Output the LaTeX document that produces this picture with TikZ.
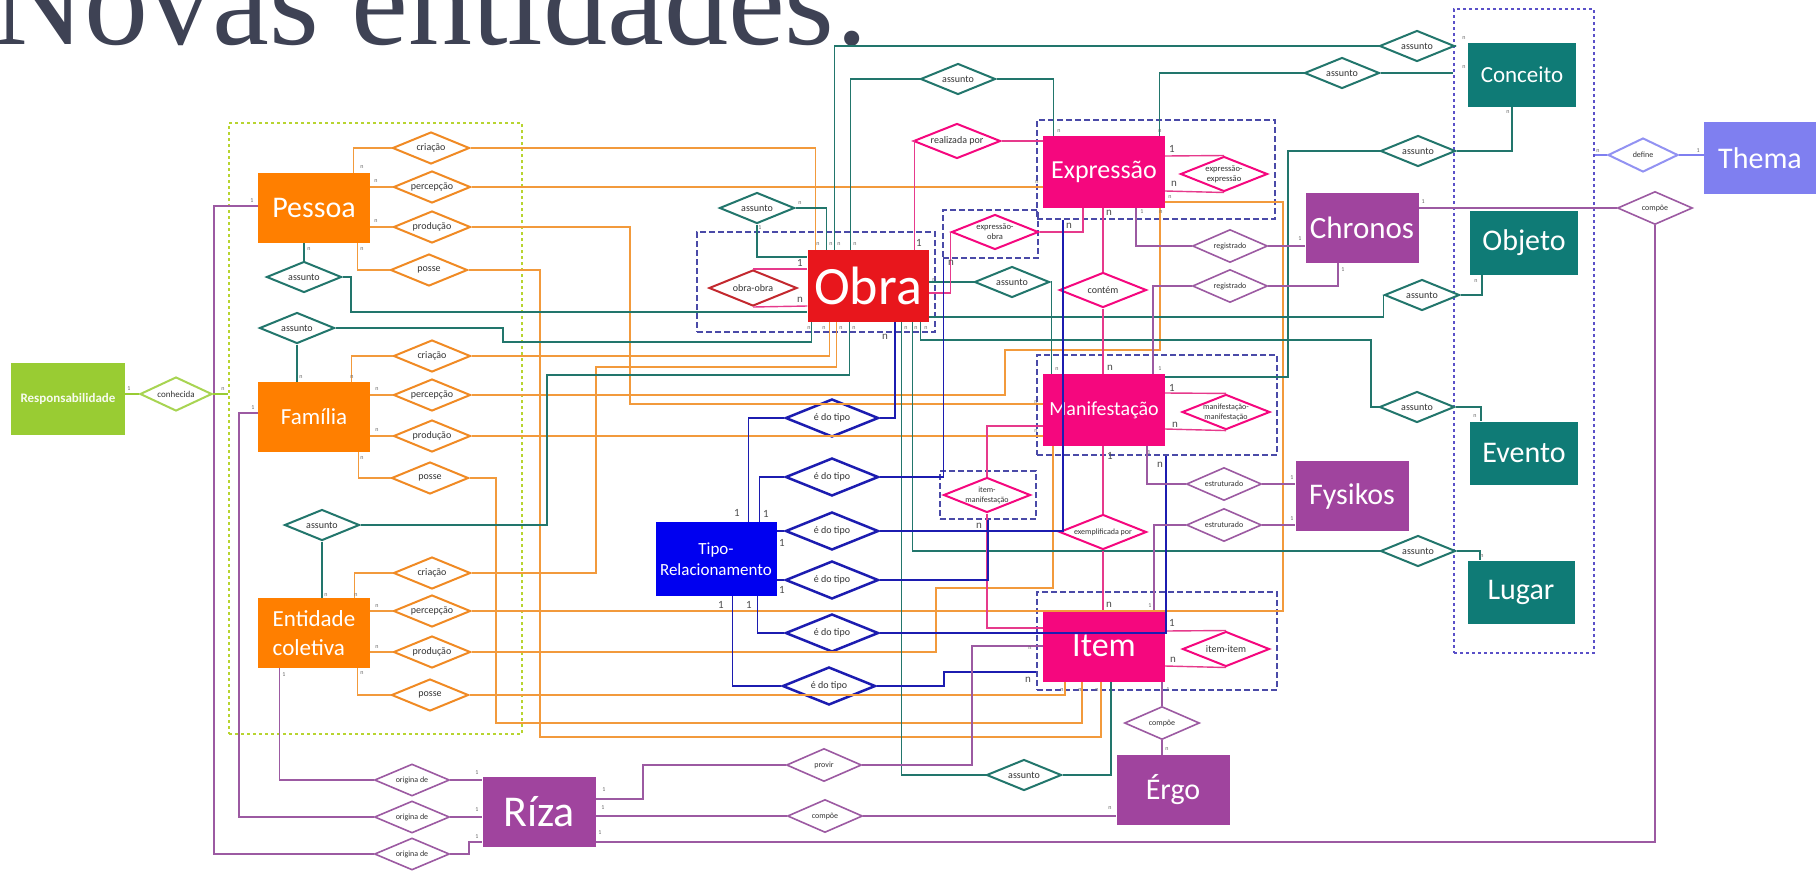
\documentclass[tikz,border=0pt]{standalone}
\usepackage{fontspec}
\setmainfont{Carlito}
\newfontfamily\titlefont{Liberation Serif}
\usetikzlibrary{shapes.geometric}

\definecolor{laranja}{HTML}{FF7F00}
\definecolor{laranjalinha}{HTML}{F29A3C}
\definecolor{laranjad}{HTML}{F08A24}
\definecolor{verdeazul}{HTML}{0F7B76}
\definecolor{verdelinha}{HTML}{22766C}
\definecolor{rosa}{HTML}{F5077E}
\definecolor{rosalinha}{HTML}{E63A8C}
\definecolor{vermelho}{HTML}{E8161C}
\definecolor{vinho}{HTML}{C3282E}
\definecolor{roxo}{HTML}{A0449E}
\definecolor{roxolinha}{HTML}{9C5AA2}
\definecolor{azul}{HTML}{0000F0}
\definecolor{azullinha}{HTML}{1C1CB0}
\definecolor{limao}{HTML}{99CC33}
\definecolor{lavanda}{HTML}{7F7FF0}
\definecolor{moldura}{HTML}{4A4AA8}
\definecolor{molduraverde}{HTML}{B8D430}
\definecolor{molduraroxa}{HTML}{5A50C8}
\definecolor{titulo}{HTML}{3E4254}

\newcommand\fs[1]{\fontsize{#1}{#1}\selectfont}

\begin{document}
\begin{tikzpicture}[x=1pt,y=-1pt,
  ent/.style={rectangle, inner sep=1pt, text=white, align=center},
  rel/.style={diamond, aspect=2.5, inner sep=0pt, line width=2pt, fill=white,
    minimum width=76pt, minimum height=32pt, font=\fs{10}, text=black!80, align=center},
  orel/.style={rel, draw=laranjad, minimum width=77pt},
  trel/.style={rel, draw=verdelinha, minimum width=75pt, minimum height=31pt},
  prel/.style={rel, draw=rosa, minimum width=87pt, minimum height=35pt},
  brel/.style={rel, draw=azullinha, line width=2.5pt, minimum width=93pt, minimum height=38pt},
  vrel/.style={rel, draw=roxolinha, line width=1.6pt, minimum width=75pt, minimum height=33pt, font=\fs{8}},
  wframe/.style={draw=moldura, dash pattern=on 6pt off 3pt, line width=1.4pt, inner sep=0pt},
  oline/.style={draw=laranjalinha, line width=1.3pt},
  tline/.style={draw=verdelinha, line width=1.3pt},
  pline/.style={draw=rosalinha, line width=1.4pt},
  bline/.style={draw=azullinha, line width=1.5pt},
  vline/.style={draw=roxolinha, line width=1.3pt},
  card/.style={font=\fs{6}, text=black!60, inner sep=0pt},
  cardb/.style={font=\fs{11}, text=black!70, inner sep=0pt}]
\useasboundingbox (0,0) rectangle (1819,871);

% titulo
\node[font=\titlefont\fs{128}, text=titulo, anchor=base west, inner sep=0pt] (titulo) at (-8,44) {Novas entidades:};

% molduras
\node[draw=molduraverde, dash pattern=on 3pt off 3pt, line width=1.6pt, inner sep=0pt,
  minimum width=293pt, minimum height=611pt] (fGroup) at (375.5,428.5) {};
\node[draw=molduraroxa, dash pattern=on 3pt off 3pt, line width=1.6pt, inner sep=0pt,
  minimum width=140pt, minimum height=644pt] (fThema) at (1524,331) {};
\node[wframe, minimum width=238pt, minimum height=100pt] (fObra) at (816,282) {};
\node[wframe, minimum width=95pt, minimum height=48pt] (fExpObra) at (990.5,234) {};
\node[wframe, minimum width=238pt, minimum height=99pt] (fExpr) at (1156,169.5) {};
\node[wframe, minimum width=240pt, minimum height=100pt] (fManif) at (1157,405) {};
\node[wframe, minimum width=96pt, minimum height=48pt] (fItemMan) at (988,495) {};
\node[wframe, minimum width=240pt, minimum height=98pt] (fItem) at (1157,641) {};

% entidades
\node[ent, fill=laranja, minimum width=112pt, minimum height=70pt, font=\fs{30}] (Pessoa) at (314,208) {Pessoa};
\node[ent, fill=laranja, minimum width=112pt, minimum height=70pt, font=\fs{23}] (Familia) at (314,417) {Família};
\node[ent, fill=laranja, minimum width=112pt, minimum height=70pt, align=left,
  font=\fontsize{23}{29}\selectfont] (EntColetiva) at (314,633) {Entidade\\coletiva};
\node[ent, fill=limao, minimum width=114pt, minimum height=72pt, text=white!92!limao,
  font=\bfseries\fs{13}] (Resp) at (68,399) {Responsabilidade};
\node[ent, fill=vermelho, minimum width=121pt, minimum height=72pt, font=\fs{54}] (Obra) at (868,286) {Obra};
\node[ent, fill=rosa, minimum width=122pt, minimum height=72pt, font=\fs{26}] (Expr) at (1104,172) {Expressão};
\node[ent, fill=rosa, minimum width=122pt, minimum height=72pt, font=\fs{20}] (Manif) at (1104,410) {Manifestação};
\node[ent, fill=rosa, minimum width=122pt, minimum height=71pt, font=\fs{34}] (Item) at (1104,646) {Item};
\node[ent, fill=roxo, minimum width=113pt, minimum height=70pt, font=\fs{31}] (Chronos) at (1362,228) {Chronos};
\node[ent, fill=roxo, minimum width=113pt, minimum height=70pt, font=\fs{30}] (Fysikos) at (1352,496) {Fysikos};
\node[ent, fill=roxo, minimum width=113pt, minimum height=70pt, font=\fs{30}] (Ergo) at (1173,790) {Érgo};
\node[ent, fill=roxo, minimum width=113pt, minimum height=70pt, font=\fs{44}] (Riza) at (539,812) {Ríza};
\node[ent, fill=verdeazul, minimum width=108pt, minimum height=64pt, font=\fs{23}] (Conceito) at (1522,75) {Conceito};
\node[ent, fill=verdeazul, minimum width=108pt, minimum height=64pt, font=\fs{30}] (Objeto) at (1524,243) {Objeto};
\node[ent, fill=verdeazul, minimum width=108pt, minimum height=63pt, font=\fs{30}] (Evento) at (1524,453) {Evento};
\node[ent, fill=verdeazul, minimum width=107pt, minimum height=63pt, font=\fs{30}] (Lugar) at (1521,592) {Lugar};
\node[ent, fill=lavanda, minimum width=112pt, minimum height=72pt, font=\fs{30}] (Thema) at (1760,158) {Thema};
\node[ent, fill=azul, minimum width=121pt, minimum height=74pt,
  font=\fontsize{17}{21}\selectfont] (TipoRel) at (716,559) {Tipo-\\Relacionamento};

% relacionamentos
\node[orel] (Pcri) at (431,148) {criação};
\node[orel] (Pperc) at (432,187) {percepção};
\node[orel] (Pprod) at (432,227) {produção};
\node[orel] (Pposse) at (429,270) {posse};
\node[orel] (Fcri) at (432,356) {criação};
\node[orel] (Fperc) at (432,395) {percepção};
\node[orel] (Fprod) at (432,436) {produção};
\node[orel] (Fposse) at (430,478) {posse};
\node[orel] (Ecri) at (432,573) {criação};
\node[orel] (Eperc) at (432,611) {percepção};
\node[orel] (Eprod) at (432,652) {produção};
\node[orel] (Eposse) at (430,695) {posse};

\node[trel] (aP) at (304,277) {assunto};
\node[trel] (aF) at (297,328) {assunto};
\node[trel] (aE) at (322,525) {assunto};
\node[trel] (aO) at (757,208) {assunto};
\node[trel] (aTop) at (958,79) {assunto};
\node[trel] (aR) at (1012,282) {assunto};
\node[trel] (aC1) at (1417,46) {assunto};
\node[trel] (aC2) at (1342,73) {assunto};
\node[trel] (aC3) at (1418,151) {assunto};
\node[trel] (aObj) at (1422,295) {assunto};
\node[trel] (aEv) at (1417,407) {assunto};
\node[trel] (aLu) at (1418,551) {assunto};
\node[trel] (aBot) at (1024,775) {assunto};

\node[prel] (realiz) at (957,141) {realizada por};
\node[prel, font=\fontsize{8.5}{10}\selectfont] (expObra) at (995,232) {expressão-\\obra};
\node[prel] (contem) at (1103,290) {contém};
\node[prel, font=\fontsize{8.5}{10}\selectfont] (expExp) at (1224,174) {expressão-\\expressão};
\node[prel, font=\fontsize{8}{10}\selectfont] (manMan) at (1226,412) {manifestação-\\manifestação};
\node[prel, font=\fontsize{8}{10}\selectfont] (itemMan) at (987,495) {item-\\manifestação};
\node[prel, font=\fs{8}] (exempl) at (1103,532) {exemplificada por};
\node[prel] (itemItem) at (1226,649) {item-item};
\node[rel, draw=vinho, minimum width=88pt, minimum height=36pt] (obraObra) at (753,288) {obra-obra};

\node[brel] (t1) at (832,418) {é do tipo};
\node[brel] (t2) at (832,477) {é do tipo};
\node[brel] (t3) at (832,531) {é do tipo};
\node[brel] (t4) at (832,580) {é do tipo};
\node[brel] (t5) at (832,633) {é do tipo};
\node[brel] (t6) at (829,686) {é do tipo};

\node[vrel] (reg1) at (1230,246) {registrado};
\node[vrel] (reg2) at (1230,286) {registrado};
\node[vrel] (est1) at (1224,484) {estruturado};
\node[vrel] (est2) at (1224,525) {estruturado};
\node[vrel] (cmpTop) at (1655,208) {compõe};
\node[vrel] (cmpErgo) at (1162,723) {compõe};
\node[vrel] (cmpRiza) at (825,816) {compõe};
\node[vrel] (provir) at (824,765) {provir};
\node[vrel, minimum height=32pt] (or1) at (412,780) {origina de};
\node[vrel, minimum height=32pt] (or2) at (412,817) {origina de};
\node[vrel, minimum height=32pt] (or3) at (412,854) {origina de};
\node[rel, draw=limao!85!white, minimum width=72pt, minimum height=34pt, font=\fs{9}] (conhecida) at (176,394) {conhecida};
\node[rel, draw=lavanda!85!white, minimum width=70pt, minimum height=34pt, font=\fs{8}] (define) at (1643,155) {define};

% ligacoes das pessoas
\draw[oline] (Pcri.west) -| ([xshift=-17pt]Pessoa.north east);
\draw[oline] (Pperc.west) -- (Pperc.west -| Pessoa.east);
\draw[oline] (Pprod.west) -- (Pprod.west -| Pessoa.east);
\draw[oline] (Pposse.west) -| ([xshift=-13pt]Pessoa.south east);
\draw[oline] (Fcri.west) -| ([xshift=-19pt]Familia.north east);
\draw[oline] (Fperc.west) -- (Fperc.west -| Familia.east);
\draw[oline] (Fprod.west) -- (Fprod.west -| Familia.east);
\draw[oline] (Fposse.west) -| ([xshift=-12pt]Familia.south east);
\draw[oline] (Ecri.west) -| ([xshift=-16pt]EntColetiva.north east);
\draw[oline] (Eperc.west) -- (Eperc.west -| EntColetiva.east);
\draw[oline] (Eprod.west) -- (Eprod.west -| EntColetiva.east);
\draw[oline] (Eposse.west) -| ([xshift=-13pt]EntColetiva.south east);

\draw[oline] (Pcri.east) -| ([xshift=8pt]Obra.north west);
\draw[oline] (Pperc.east) -- ([yshift=-15pt]Expr.west);
\draw[oline] (Pprod.east) -| (630,404) -- ([yshift=6pt]Manif.west);
\draw[oline] (Pposse.east) -| (540,737) -| ([xshift=-3pt]Item.south);
\draw[oline] (Fcri.east) -| ([xshift=22pt]Obra.south west);
\draw[oline] (Fperc.east) -| (1005,350) -| ([xshift=56pt]Expr.south);
\draw[oline] (Fprod.east) -- ([yshift=-26pt]Manif.west);
\draw[oline] (Fposse.east) -| (496,723) -| ([xshift=-22pt]Item.south);
\draw[oline] (Ecri.east) -| (596,367) -| ([xshift=29pt]Obra.south west);
\draw[oline] (Eperc.east) -| (1283,202) -- ([yshift=-30pt]Expr.east);
\draw[oline] (Eprod.east) -| (936,588) -| ([xshift=-51pt]Manif.south);
\draw[oline] (Eposse.east) -| ([xshift=-39pt]Item.south);

% assunto
\draw[tline] (aP.north) -- (aP.north |- Pessoa.south);
\draw[tline] (aP.east) -| (351,312) -- ([yshift=-26pt]Obra.west);
\draw[tline] (aF.south) -- (aF.south |- Familia.north);
\draw[tline] (aF.east) -| (503,342) -| ([xshift=4pt]Obra.south west);
\draw[tline] (aE.south) -- (aE.south |- EntColetiva.north);
\draw[tline] (aE.east) -| (547,375) -| ([xshift=42pt]Obra.south west);
\draw[tline] (aO.south) |- ([yshift=29pt]Obra.west);
\draw[tline] (aO.east) -| ([xshift=19pt]Obra.north west);
\draw[tline] ([xshift=27pt]Obra.north west) |- (aC1.west);
\draw[tline] (aC1.east) -- (aC1.east -| fThema.west);
\draw[tline] ([xshift=43pt]Obra.north west) |- (aTop.west);
\draw[tline] (aTop.east) -| ([xshift=11pt]Expr.north west);
\draw[tline] ([xshift=117pt]Expr.north west) |- (aC2.west);
\draw[tline] (aC2.east) -- (aC2.east -| fThema.west);
\draw[tline] (aC3.east) -| ([xshift=-10pt]Conceito.south);
\draw[tline] (aC3.west) -| (1288,377) -- ([yshift=33pt]Manif.east);
\draw[tline] ([yshift=-31pt]Obra.east) -| (aObj.west);
\draw[tline] (aObj.east) -| ([xshift=-42pt]Objeto.south);
\draw[tline] ([yshift=4pt]Obra.east) -- (aR.west);
\draw[tline] (aR.east) -| ([xshift=9pt]Manif.north west);
\draw[tline] ([xshift=113pt]Obra.south west) |- (1371,340) |- (aEv.west);
\draw[tline] (aEv.east) -| ([xshift=-43pt]Evento.north);
\draw[tline] ([xshift=105pt]Obra.south west) |- (aLu.west);
\draw[tline] (aLu.east) -| ([xshift=-41pt]Lugar.north);
\draw[tline] ([xshift=94pt]Obra.south west) |- (aBot.west);
\draw[tline] (aBot.east) -| ([xshift=7pt]Item.south);

% obra, expressao, manifestacao, item
\draw[pline] ([yshift=17pt]Obra.west) -- (obraObra.north);
\draw[pline] ([yshift=-20pt]Obra.west) -- (obraObra.south);
\draw[pline] (realiz.east) -- (realiz.east -| Expr.west);
\draw[pline] (realiz.west) -| ([xshift=-14pt]Obra.north east);
\draw[pline] ([yshift=-7pt]Obra.east) -| (expObra.west);
\draw[pline] (expObra.east) -| ([xshift=-21pt]Expr.south);
\draw[pline] (contem.north) -- (contem.north |- Expr.south);
\draw[pline] (contem.south) -- (contem.south |- Manif.north);
\draw[pline] ([yshift=16pt]Expr.east) -- (expExp.north);
\draw[pline] ([yshift=-19pt]Expr.east) -- (expExp.south);
\draw[pline] ([yshift=17pt]Manif.east) -- (manMan.north);
\draw[pline] ([yshift=-19pt]Manif.east) -- (manMan.south);
\draw[pline] ([yshift=15pt]Item.east) -- (itemItem.north);
\draw[pline] ([yshift=-20pt]Item.east) -- (itemItem.south);
\draw[pline] (exempl.north) -- (exempl.north |- Manif.south);
\draw[pline] (exempl.south) -- (exempl.south |- Item.north);
\draw[pline] (itemMan.north) |- ([yshift=-16pt]Manif.west);
\draw[pline] (itemMan.south) |- ([yshift=18pt]Item.west);

% tipo de relacionamento
\draw[bline] (t1.west) -| ([xshift=93pt]TipoRel.north west);
\draw[bline] (t1.east) -| ([xshift=27pt]Obra.south);
\draw[bline] (t2.west) -| ([xshift=104pt]TipoRel.north west);
\draw[bline] (t2.east) -| ([xshift=-47pt]fExpObra.south);
\draw[bline] (t3.west) -- (t3.west -| TipoRel.east);
\draw[bline] (t3.east) -| ([xshift=-93pt]fExpr.south);
\draw[bline] (t4.west) -- (t4.west -| TipoRel.east);
\draw[bline] (t4.east) -| (fItemMan.south);
\draw[bline] (t5.west) -| ([xshift=102pt]TipoRel.south west);
\draw[bline] (t5.east) -| ([xshift=9pt]fManif.south);
\draw[bline] (t6.west) -| ([xshift=77pt]TipoRel.south west);
\draw[bline] (t6.east) -| (944,672) -- ([yshift=-31pt]fItem.west);

% Riza, Chronos, Fysikos, Ergo
\draw[vline] ([yshift=2pt]Pessoa.west) -| (214,854) -- (or3.west);
\draw[vline] ([yshift=4pt]Familia.west) -| (239,817) -- (or2.west);
\draw[vline] ([xshift=22pt]EntColetiva.south west) |- (or1.west);
\draw[vline] (or1.east) -- (or1.east -| Riza.west);
\draw[vline] (or2.east) -- (or2.east -| Riza.west);
\draw[vline] (or3.east) -| (469,842) -- ([yshift=-30pt]Riza.west);
\draw[vline] ([yshift=13pt]Riza.east) -| (643,765) -- (provir.west);
\draw[vline] (provir.east) -| (972,646) -- (Item.west);
\draw[vline] ([yshift=-4pt]Riza.east) -- (cmpRiza.west);
\draw[vline] (cmpRiza.east) -- (cmpRiza.east -| Ergo.west);
\draw[vline] ([yshift=-30pt]Riza.east) -| (cmpTop.south);
\draw[vline] (cmpTop.west) -- (cmpTop.west -| Chronos.east);
\draw[vline] (cmpErgo.north) -- (cmpErgo.north |- Item.south);
\draw[vline] (cmpErgo.south) -- (cmpErgo.south |- Ergo.north);
\draw[vline] (reg1.east) -- (reg1.east -| Chronos.west);
\draw[vline] (reg1.west) -| ([xshift=32pt]Expr.south);
\draw[vline] (reg2.east) -| ([xshift=-24pt]Chronos.south);
\draw[vline] (reg2.west) -| ([xshift=49pt]Manif.north);
\draw[vline] (est1.east) -- (est1.east -| Fysikos.west);
\draw[vline] (est1.west) -| ([xshift=43pt]Manif.south);
\draw[vline] (est2.east) -- (est2.east -| Fysikos.west);
\draw[vline] (est2.west) -| ([xshift=50pt]Item.north);

% responsabilidade, thema
\draw[draw=limao, line width=1.3pt] (conhecida.west) -- (conhecida.west -| Resp.east);
\draw[draw=limao, line width=1.3pt] (conhecida.east) -- (conhecida.east -| fGroup.west);
\draw[draw=lavanda, line width=1.3pt] (define.west) -- (define.west -| fThema.east);
\draw[draw=lavanda, line width=1.3pt] (define.east) -- (define.east -| Thema.west);

% cardinalidades
\foreach \nm/\x/\y/\t in {
  c1/362/167/n, c2/376/181/n, c3/376/221/n, c4/362/249/n, c5/309/249/n, c6/252/201/1,
  c7/301/377/n, c8/352/377/n, c9/377/389/n, c10/377/430/n, c11/362/458/n, c12/253/408/1,
  c13/326/595/n, c14/356/595/n, c15/377/606/n, c16/377/647/n, c17/362/673/n, c18/284/675/1,
  c19/129/389/1, c20/223/389/n,
  c21/477/773/1, c22/477/810/1, c23/477/837/1, c24/604/790/1, c25/603/808/1, c26/600/833/1,
  c27/818/244/n, c28/831/244/n, c29/839/244/n, c30/855/244/n, c31/800/203/n, c32/760/228/1,
  c33/809/328/n, c34/824/328/n, c35/841/328/n, c36/854/328/n, c37/906/328/n, c38/916/328/n,
  c39/926/328/n, c40/934/280/n,
  c41/1059/131/n, c42/1160/131/n, c43/1037/182/n, c44/1170/197/n, c45/1142/212/1, c46/1161/212/n,
  c47/1057/369/n, c48/1160/369/1, c49/1036/402/n, c50/1036/431/n, c51/1149/453/1,
  c52/1150/606/1, c53/1030/648/n, c54/1062/690/n, c55/1080/690/n, c56/1097/690/n, c57/1168/690/1,
  c58/1300/239/1, c59/1343/270/1, c60/1423/202/1, c61/1292/478/1, c62/1292/519/1,
  c63/1464/38/n, c64/1464/67/n, c65/1508/112/n, c66/1476/281/n, c67/1475/416/n, c68/1482/556/n,
  c69/1698/151/1, c70/1598/151/n, c71/1167/749/n, c72/1110/808/n}
  \node[card] (\nm) at (\x,\y) {\t};
\foreach \nm/\x/\y/\t in {
  b1/800/263/1, b2/800/300/n, b3/919/243/1, b4/885/337/n, b5/951/263/n,
  b6/1172/149/1, b7/1174/184/n, b8/1109/213/n, b9/1069/226/n,
  b10/1110/368/n, b11/1172/388/1, b12/1175/425/n, b13/1110/456/1, b14/1160/465/n,
  b15/1109/605/n, b16/1172/623/1, b17/1173/660/n, b18/1028/680/n, b19/979/526/n,
  b20/737/513/1, b21/766/514/1, b22/782/543/1, b23/782/590/1, b24/721/605/1, b25/749/605/1}
  \node[cardb] (\nm) at (\x,\y) {\t};
\end{tikzpicture}
\end{document}
